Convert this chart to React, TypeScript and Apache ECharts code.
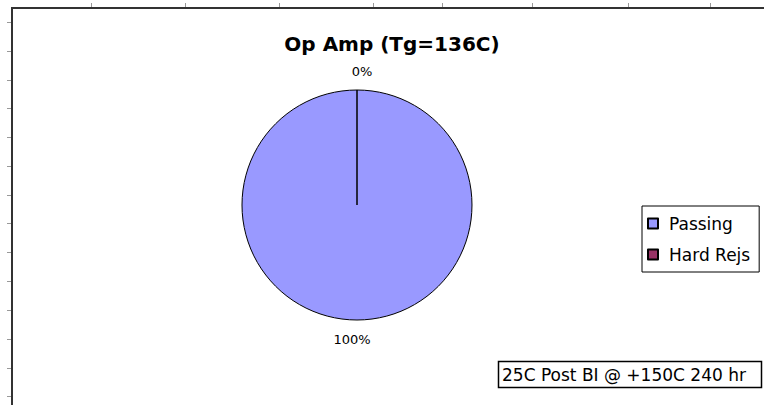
import React, { useEffect, useRef } from "react";
import * as echarts from "echarts";

// ---- data ----
const TITLE = "Op Amp (Tg=136C)";
const categories = ["Passing", "Hard Rejs"];
const values = [100, 0];
const sliceColors = ["#9999FF", "#993366"];
const NOTE = "25C Post BI @ +150C 240 hr";

// ---- decoration (spreadsheet frame ticks) ----
const topTickX = [91, 185, 279, 373, 442, 532, 628, 710];
const leftTickY = [22, 51, 80, 108, 137, 166, 195, 223, 252, 281, 310, 339, 368, 396];

const FONT = "'DejaVu Sans', Verdana, sans-serif";

export default function App() {
  const ref = useRef<HTMLDivElement>(null);

  useEffect(() => {
    if (!ref.current) return;
    const chart = echarts.init(ref.current, undefined, { renderer: "svg" });

    const frame: any[] = [
      {
        type: "line",
        shape: { x1: 12, y1: 8, x2: 764, y2: 8 },
        style: { stroke: "#333", lineWidth: 2 },
        silent: true,
      },
      {
        type: "line",
        shape: { x1: 12, y1: 7, x2: 12, y2: 405 },
        style: { stroke: "#333", lineWidth: 2 },
        silent: true,
      },
      ...topTickX.map((x) => ({
        type: "line",
        shape: { x1: x + 0.5, y1: 3, x2: x + 0.5, y2: 7 },
        style: { stroke: "#999", lineWidth: 1 },
        silent: true,
      })),
      ...leftTickY.map((y) => ({
        type: "line",
        shape: { x1: 7, y1: y + 0.5, x2: 11, y2: y + 0.5 },
        style: { stroke: "#999", lineWidth: 1 },
        silent: true,
      })),
      {
        type: "text",
        x: 392,
        y: 44,
        style: {
          text: TITLE,
          align: "center",
          verticalAlign: "middle",
          fontFamily: FONT,
          fontSize: 20,
          fontWeight: "bold",
          fill: "#000",
        },
        silent: true,
      },
      {
        type: "rect",
        shape: { x: 498.5, y: 361.5, width: 263, height: 26 },
        style: { fill: "#fff", stroke: "#000", lineWidth: 1.5 },
        silent: true,
      },
      {
        type: "text",
        x: 502,
        y: 375,
        style: {
          text: NOTE,
          align: "left",
          verticalAlign: "middle",
          fontFamily: FONT,
          fontSize: 17,
          fill: "#000",
        },
        silent: true,
      },
    ];

    chart.setOption({
      animation: false,
      backgroundColor: "#fff",
      legend: {
        orient: "vertical",
        left: 642,
        top: 206,
        data: categories,
        icon: "rect",
        itemWidth: 10,
        itemHeight: 10,
        itemGap: 14,
        padding: [9, 9, 9, 5],
        borderColor: "#000",
        borderWidth: 1,
        backgroundColor: "#fff",
        selectedMode: false,
        textStyle: {
          fontFamily: FONT,
          fontSize: 17,
          color: "#000",
          padding: [0, 0, 0, 6],
        },
      },
      series: [
        {
          type: "pie",
          center: [357, 205],
          radius: 115,
          startAngle: 90,
          clockwise: true,
          avoidLabelOverlap: false,
          silent: true,
          emphasis: { disabled: true },
          itemStyle: { borderColor: "#000", borderWidth: 1 },
          label: {
            show: true,
            position: "outside",
            formatter: (p: any) => `${Math.round(p.percent)}%`,
            fontFamily: FONT,
            fontSize: 13,
            color: "#000",
          },
          labelLine: { show: false, length: 19, length2: 0 },
          labelLayout: { align: "center", verticalAlign: "middle" },
          data: categories.map((name, i) => ({
            name,
            value: values[i],
            itemStyle: { color: sliceColors[i] },
          })),
        },
      ],
      graphic: frame,
    });

    return () => chart.dispose();
  }, []);

  return (
    <div
      ref={ref}
      style={{ position: "fixed", left: 0, top: 0, width: 764, height: 405 }}
    />
  );
}
